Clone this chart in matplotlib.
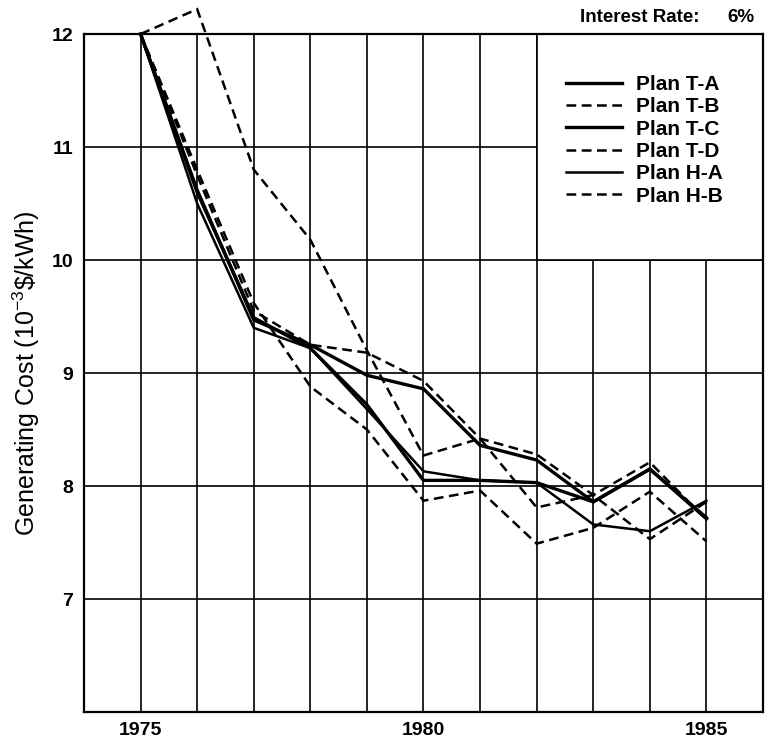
import matplotlib
matplotlib.use("Agg")
import matplotlib.pyplot as plt
from matplotlib.patches import Rectangle

plt.rcParams["font.family"] = ["Liberation Sans", "DejaVu Sans"]
plt.rcParams["mathtext.fontset"] = "custom"
plt.rcParams["mathtext.rm"] = "Liberation Sans"
plt.rcParams["mathtext.it"] = "Liberation Sans:italic"
plt.rcParams["mathtext.bf"] = "Liberation Sans:bold"
plt.rcParams["lines.scale_dashes"] = False

# Generating cost by year for each expansion plan (10^-3 $/kWh)
years = [1975, 1976, 1977, 1978, 1979, 1980, 1981, 1982, 1983, 1984, 1985]
plan_ta = [12.00, 10.60, 9.49, 9.22, 8.72, 8.05, 8.05, 8.03, 7.86, 8.15, 7.72]
plan_tb = [12.00, 12.22, 10.80, 10.18, 9.20, 8.27, 8.42, 7.81, 7.92, 7.53, 7.86]
plan_tc = [12.00, 10.62, 9.47, 9.25, 8.98, 8.86, 8.36, 8.23, 7.86, 8.15, 7.71]
plan_td = [12.00, 10.75, 9.55, 9.25, 9.18, 8.93, 8.42, 8.28, 7.92, 8.21, 7.70]
plan_ha = [12.00, 10.50, 9.40, 9.22, 8.68, 8.13, 8.05, 8.03, 7.66, 7.60, 7.87]
plan_hb = [12.00, 10.80, 9.62, 8.88, 8.50, 7.87, 7.96, 7.49, 7.63, 7.95, 7.51]

plan_names = ["Plan T-A", "Plan T-B", "Plan T-C", "Plan T-D", "Plan H-A", "Plan H-B"]
plan_values = [plan_ta, plan_tb, plan_tc, plan_td, plan_ha, plan_hb]
plan_styles = [
    dict(linestyle="-", linewidth=2.4),
    dict(linestyle=(0, (7, 4)), linewidth=1.8),
    dict(linestyle="-", linewidth=2.4),
    dict(linestyle=(0, (7, 4)), linewidth=1.8),
    dict(linestyle="-", linewidth=1.8),
    dict(linestyle=(0, (7, 4)), linewidth=1.8),
]

year_labels = {1975: "1975", 1980: "1980", 1985: "1985"}
cost_ticks = [7, 8, 9, 10, 11, 12]

fig = plt.figure(figsize=(7.67, 7.43), dpi=100)
ax = fig.add_axes([0.1095, 0.0417, 0.8853, 0.9125])

ax.set_xlim(1974, 1986)
ax.set_ylim(6, 12)

# grid at every year and every unit of cost
for yr in years:
    ax.axvline(yr, color="black", linewidth=1.2, zorder=0.5)
for c in cost_ticks[:-1]:
    ax.axhline(c, color="black", linewidth=1.2, zorder=0.5)

# white legend panel in the upper-right corner
ax.add_patch(Rectangle((1982, 10), 4, 2, facecolor="white", edgecolor="black",
                       linewidth=1.2, zorder=1))

handles = []
for name, vals, st in zip(plan_names, plan_values, plan_styles):
    (ln,) = ax.plot(years, vals, color="black", label=name, clip_on=False,
                    solid_joinstyle="miter", dash_joinstyle="miter", zorder=3, **st)
    handles.append(ln)

leg = ax.legend(handles=handles, loc="upper left", bbox_to_anchor=(0.697, 0.952),
                frameon=False, prop={"size": 15, "weight": "bold"},
                handlelength=2.7, handletextpad=0.7,
                labelspacing=0.16, borderaxespad=0)
leg.set_zorder(4)

ax.set_xticks(years)
ax.set_xticklabels([year_labels.get(y, "") for y in years], fontsize=14, fontweight="bold")
ax.set_yticks(cost_ticks)
ax.set_yticklabels([str(c) for c in cost_ticks], fontsize=14, fontweight="bold")
ax.tick_params(axis="both", length=0)
ax.tick_params(axis="x", pad=7)
ax.tick_params(axis="y", pad=8)

for s in ax.spines.values():
    s.set_linewidth(1.6)
    s.set_color("black")

ax.set_ylabel("Generating Cost (10$^{\\mathregular{-3}}$\\$/kWh)", fontsize=18)
ax.yaxis.set_label_coords(-0.062, 0.5)

fig.text(700 / 767, 0.977, "Interest Rate:", ha="right", va="center",
         fontsize=13.5, fontweight="bold")
fig.text(755 / 767, 0.977, "6%", ha="right", va="center",
         fontsize=13.5, fontweight="bold")

fig.savefig("out.png", dpi=100)
